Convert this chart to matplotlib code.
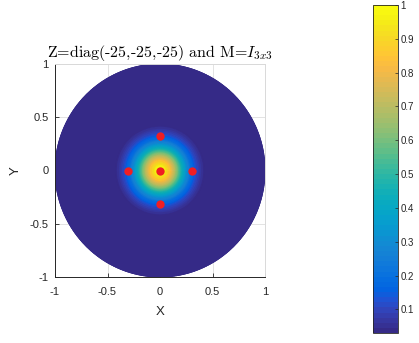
import numpy as np
import matplotlib
matplotlib.use("Agg")
import matplotlib.pyplot as plt
from matplotlib.colors import LinearSegmentedColormap

plt.rcParams['axes.unicode_minus'] = False
plt.rcParams['mathtext.fontset'] = 'cm'
plt.rcParams['font.family'] = ['Liberation Sans', 'DejaVu Sans']

# ---- data ----
radius_samples = [0.0, 0.05, 0.10, 0.15, 0.20, 0.25, 0.30, 0.35, 0.40, 0.45, 1.0]
value_samples = [1.0, 0.956, 0.834, 0.665, 0.484, 0.322, 0.196, 0.109, 0.055, 0.03, 0.03]
point_x = [0.0, 0.305, -0.305, 0.0, 0.0]
point_y = [0.0, 0.0, 0.0, 0.325, -0.31]
axis_ticks = [-1, -0.5, 0, 0.5, 1]
axis_ticklabels = ['-1', '-0.5', '0', '0.5', '1']
cbar_ticks = [0.1, 0.2, 0.3, 0.4, 0.5, 0.6, 0.7, 0.8, 0.9, 1.0]
cbar_ticklabels = ['0.1', '0.2', '0.3', '0.4', '0.5', '0.6', '0.7', '0.8', '0.9', '1']
title_text = r'Z=diag(-25,-25,-25) and M=$I_{3x3}$'

# parula-like colormap anchors
parula_anchors = [
    (0.2081, 0.1663, 0.5292), (0.2123, 0.2138, 0.6270), (0.1959, 0.2645, 0.7279),
    (0.1253, 0.3242, 0.8303), (0.0117, 0.3875, 0.8820), (0.0165, 0.4266, 0.8786),
    (0.0498, 0.4586, 0.8641), (0.0723, 0.4887, 0.8467), (0.0793, 0.5200, 0.8312),
    (0.0641, 0.5570, 0.8240), (0.0343, 0.5966, 0.8199), (0.0239, 0.6287, 0.8038),
    (0.0228, 0.6535, 0.7768), (0.0384, 0.6743, 0.7436), (0.0843, 0.6928, 0.7062),
    (0.1453, 0.7098, 0.6646), (0.2178, 0.7250, 0.6193), (0.3022, 0.7376, 0.5712),
    (0.3953, 0.7459, 0.5244), (0.4871, 0.7491, 0.4840), (0.5709, 0.7485, 0.4494),
    (0.6473, 0.7456, 0.4188), (0.7184, 0.7411, 0.3905), (0.7858, 0.7356, 0.3633),
    (0.8507, 0.7299, 0.3360), (0.9139, 0.7258, 0.3063), (0.9739, 0.7314, 0.2666),
    (0.9990, 0.7653, 0.2164), (0.9880, 0.8066, 0.1794), (0.9697, 0.8481, 0.1475),
    (0.9589, 0.8949, 0.1132), (0.9661, 0.9514, 0.0755), (0.9763, 0.9831, 0.0538),
]
parula = LinearSegmentedColormap.from_list('parula', parula_anchors, N=64)

W, H = 419, 343
fig = plt.figure(figsize=(W / 100, H / 100), dpi=100)
fig.patch.set_facecolor('white')

ax = fig.add_axes([55 / W, (H - 277) / H, 210 / W, 213 / H])
cax = fig.add_axes([373 / W, (H - 333) / H, 25 / W, 328 / H])

r = np.linspace(0, 1, 201)
th = np.linspace(0, 2 * np.pi, 361)
R, TH = np.meshgrid(r, th)
Z = np.interp(R, radius_samples, value_samples)
Xg = R * np.cos(TH)
Yg = R * np.sin(TH)
vmin, vmax = min(value_samples), max(value_samples)
mesh = ax.pcolormesh(Xg, Yg, Z, cmap=parula, vmin=vmin, vmax=vmax,
                     shading='gouraud', zorder=2, rasterized=True)

ax.plot(point_x, point_y, 'o', color='#f01e23', ms=6, mec='none', zorder=3)

ax.set_xlim(-1, 1)
ax.set_ylim(-1, 1)
ax.set_xticks(axis_ticks)
ax.set_xticklabels(axis_ticklabels)
ax.set_yticks(axis_ticks)
ax.set_yticklabels(axis_ticklabels)
ax.grid(True, color='#e3e3e3', linewidth=0.7, zorder=0)
ax.set_axisbelow(True)
ax.tick_params(axis='x', direction='in', length=3, width=0.6, labelsize=8,
               colors='#262626', pad=7)
ax.tick_params(axis='y', direction='in', length=3, width=0.6, labelsize=8,
               colors='#262626', pad=4.5)
for s in ['top', 'right']:
    ax.spines[s].set_color('#d9d9d9')
    ax.spines[s].set_linewidth(0.7)
for s in ['left', 'bottom']:
    ax.spines[s].set_color('#262626')
    ax.spines[s].set_linewidth(0.7)
ax.set_xlabel('X', fontsize=9.5, color='#262626', labelpad=7)
ax.set_ylabel('Y', fontsize=9.5, color='#262626', labelpad=6)
ax.set_title(title_text, fontsize=11.5, family='cmr10', pad=5)

cb = fig.colorbar(mesh, cax=cax, ticks=cbar_ticks)
cb.ax.set_yticklabels(cbar_ticklabels)
cb.ax.tick_params(direction='in', length=2, width=0.5, labelsize=7,
                  colors='#262626', pad=2)
cb.outline.set_linewidth(0.6)
cb.outline.set_edgecolor('#262626')

fig.savefig('out.png', dpi=100)
